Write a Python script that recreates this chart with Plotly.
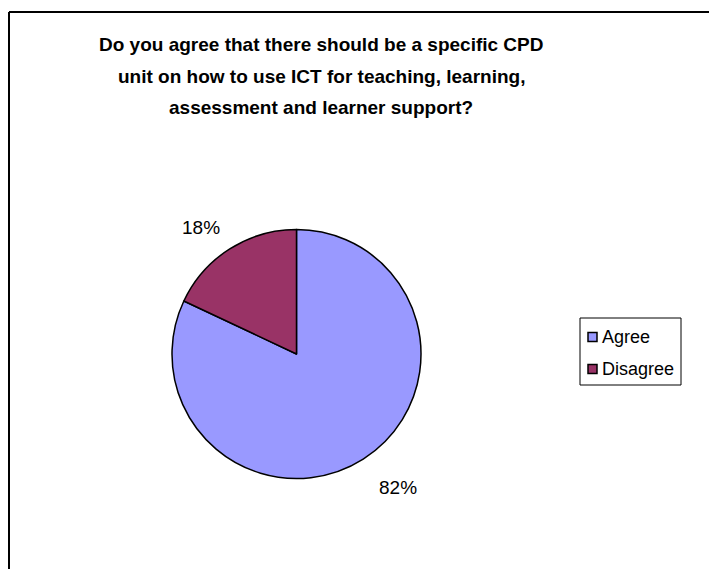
import plotly.graph_objects as go

# Survey responses
labels = ["Agree", "Disagree"]
values = [82, 18]
colors = ["#9999FF", "#993366"]

title_lines = [
    "Do you agree that there should be a specific CPD",
    "unit on how to use ICT for teaching, learning,",
    "assessment and learner support?",
]

W, H = 709, 569
FONT = "Liberation Sans, Arial"


def px(x):
    return x / W


def py(y):
    return 1 - y / H


fig = go.Figure()
fig.add_trace(go.Pie(
    labels=labels,
    values=values,
    sort=False,
    direction="clockwise",
    rotation=0,
    marker=dict(colors=colors, line=dict(color="black", width=1.5)),
    textinfo="none",
    hoverinfo="label+percent",
    showlegend=False,
    domain=dict(x=[px(172), px(421)], y=[py(479), py(229)]),
))

annotations = []
shapes = []

# title lines
for i, line in enumerate(title_lines):
    annotations.append(dict(
        x=px(321), y=py(45 + i * 31.5), xref="paper", yref="paper",
        text="<b>" + line + "</b>", showarrow=False,
        xanchor="center", yanchor="middle",
        font=dict(family=FONT, size=19, color="black"),
    ))

# percentage labels placed outside the slices
total = sum(values)
label_pos = {"Disagree": (201, 227), "Agree": (398, 487)}
for lab, val in zip(labels, values):
    x, y = label_pos[lab]
    annotations.append(dict(
        x=px(x), y=py(y), xref="paper", yref="paper",
        text=f"{round(100 * val / total)}%", showarrow=False,
        xanchor="center", yanchor="middle",
        font=dict(family=FONT, size=19, color="black"),
    ))

# legend box with swatches
lx0, ly0, lx1, ly1 = 580, 318, 681, 385
shapes.append(dict(type="rect", xref="paper", yref="paper",
                   x0=px(lx0), x1=px(lx1), y0=py(ly1), y1=py(ly0),
                   line=dict(color="black", width=1), fillcolor="white"))
for i, (lab, col) in enumerate(zip(labels, colors)):
    cy = 337 + i * 32
    shapes.append(dict(type="rect", xref="paper", yref="paper",
                       x0=px(588), x1=px(597), y0=py(cy + 4.5), y1=py(cy - 4.5),
                       line=dict(color="black", width=1.5), fillcolor=col))
    annotations.append(dict(
        x=px(600), y=py(cy), xref="paper", yref="paper",
        text=lab, showarrow=False, xanchor="left", yanchor="middle",
        font=dict(family=FONT, size=18, color="black"),
    ))

# chart frame (left and top edges)
shapes.append(dict(type="line", xref="paper", yref="paper",
                   x0=px(9), y0=0, x1=px(9), y1=py(12),
                   line=dict(color="black", width=2)))
shapes.append(dict(type="line", xref="paper", yref="paper",
                   x0=px(9), y0=py(12), x1=1, y1=py(12),
                   line=dict(color="black", width=2)))

fig.update_layout(
    width=W, height=H,
    margin=dict(l=0, r=0, t=0, b=0),
    paper_bgcolor="white",
    plot_bgcolor="white",
    annotations=annotations,
    shapes=shapes,
    showlegend=False,
)

fig.write_html("out.html")
